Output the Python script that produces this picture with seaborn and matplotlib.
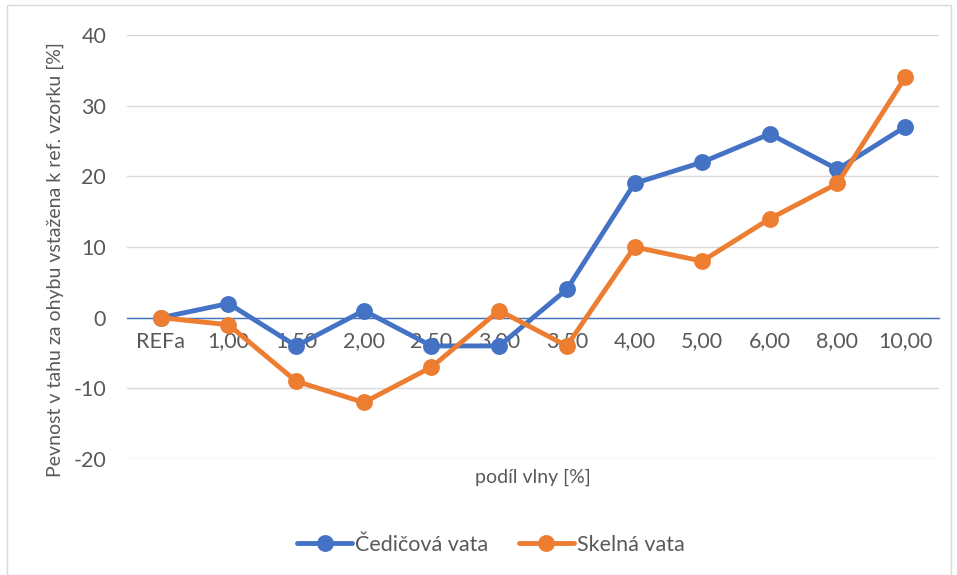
import matplotlib
matplotlib.use("Agg")
import matplotlib.pyplot as plt
import seaborn as sns
import pandas as pd
from matplotlib.patches import Rectangle

categories = ["REFa", "1,00", "1,50", "2,00", "2,50", "3,00", "3,50", "4,00", "5,00", "6,00", "8,00", "10,00"]
cedicova = [0, 2, -4, 1, -4, -4, 4, 19, 22, 26, 21, 27]
skelna = [0, -1, -9, -12, -7, 1, -4, 10, 8, 14, 19, 34]
series_names = ["Čedičová vata", "Skelná vata"]
y_ticks = [-20, -10, 0, 10, 20, 30, 40]

df = pd.DataFrame({
    "cat": categories * 2,
    "val": cedicova + skelna,
    "series": [series_names[0]] * len(categories) + [series_names[1]] * len(categories),
})

sns.set_theme(style="white")
plt.rcParams["font.family"] = ["Lato", "DejaVu Sans"]
txt = "#595959"

W, H = 957, 575
fig = plt.figure(figsize=(W / 100, H / 100), dpi=100)
ax = fig.add_axes([127 / W, 1 - 459 / H, (939 - 127) / W, (459 - 35) / H])

sns.pointplot(data=df, x="cat", y="val", hue="series", order=categories,
              palette=["#4472C4", "#ED7D31"], markers="o", linestyles="-",
              markersize=9.5, linewidth=3.5, ax=ax, legend=True)

ax.set_xlim(-0.5, len(categories) - 0.5)
ax.set_ylim(-20, 40)
ax.set_yticks(y_ticks)
ax.set_yticklabels([str(t) for t in y_ticks], fontsize=15.5, color=txt)
ax.grid(axis="y", color="#D9D9D9", linewidth=1)
ax.set_axisbelow(True)
for s in ["top", "right", "left"]:
    ax.spines[s].set_visible(False)
ax.spines["bottom"].set_position(("data", 0))
ax.spines["bottom"].set_color("#4472C4")
ax.spines["bottom"].set_linewidth(1)
ax.spines["bottom"].set_zorder(1)
ax.tick_params(axis="x", length=0, pad=10, labelsize=15.5, labelcolor=txt)
ax.tick_params(axis="y", length=0, pad=15)
ax.set_xlabel("")
ax.set_ylabel("")

fig.text(533 / W, 1 - 477 / H, "podíl vlny [%]", ha="center", va="center", fontsize=14, color=txt)
fig.text(55 / W, 1 - 260 / H, "Pevnost v tahu za ohybu vstažena k ref. vzorku [%]",
         ha="center", va="center", rotation=90, fontsize=14, color=txt)

handles, labels = ax.get_legend_handles_labels()
ax.get_legend().remove()
fig.legend(handles, labels, loc="center", bbox_to_anchor=(491 / W, 1 - 545 / H), ncol=2,
           frameon=False, fontsize=15.5, labelcolor=txt, handlelength=2.55,
           handletextpad=0.15, columnspacing=1.4)

fig.patches.append(Rectangle((7 / W, 0), (951 - 7) / W, (575 - 5) / H, transform=fig.transFigure,
                             fill=False, edgecolor="#D9D9D9", linewidth=1))

fig.savefig("out.png", dpi=100)
